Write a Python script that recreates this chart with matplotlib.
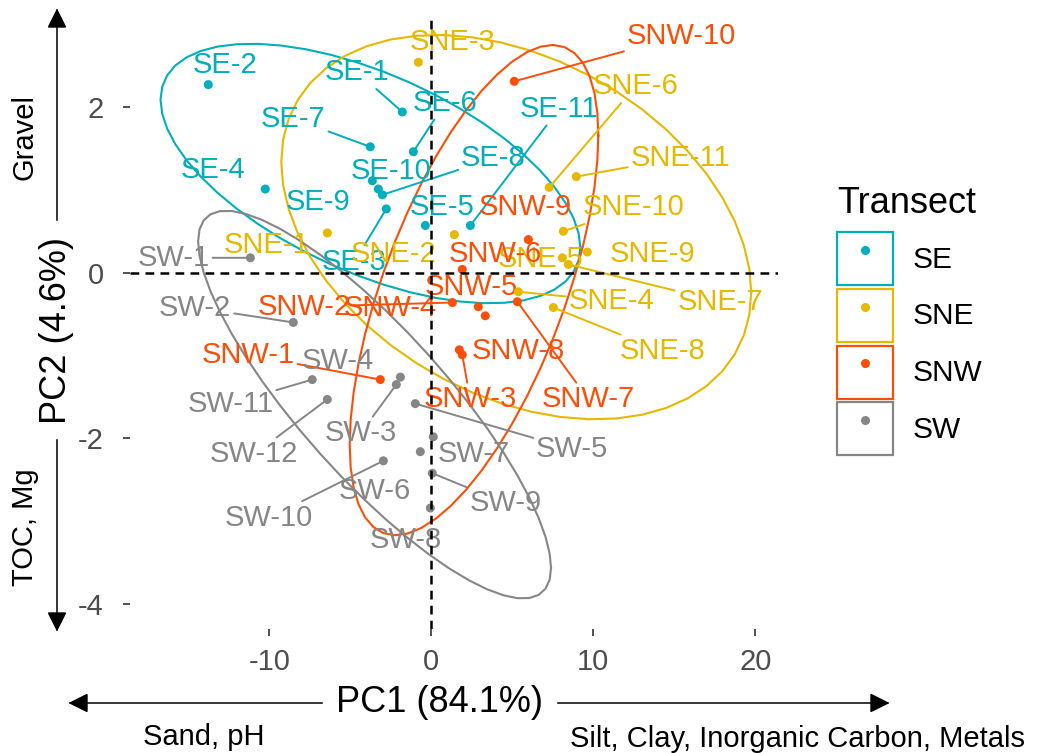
import numpy as np
import matplotlib
matplotlib.use("Agg")
import matplotlib.pyplot as plt
from matplotlib.lines import Line2D
from matplotlib.patches import Rectangle, Polygon

plt.rcParams["font.family"] = ["Liberation Sans", "DejaVu Sans"]
plt.rcParams["axes.unicode_minus"] = False

# PCA scores per sample, grouped by transect
se_names = ["SE-1", "SE-2", "SE-3", "SE-4", "SE-5", "SE-6", "SE-7", "SE-8", "SE-9", "SE-10", "SE-11"]
se_pc1 = [-1.79, -13.77, -2.78, -10.25, -0.37, -1.11, -3.77, -3.02, -3.64, -3.27, 2.41]
se_pc2 = [1.94, 2.27, 0.77, 1.01, 0.57, 1.46, 1.52, 0.94, 1.11, 1.01, 0.57]

sne_names = ["SNE-1", "SNE-2", "SNE-3", "SNE-4", "SNE-5", "SNE-6", "SNE-7", "SNE-8", "SNE-9", "SNE-10", "SNE-11"]
sne_pc1 = [-6.42, 1.42, -0.80, 5.37, 8.09, 7.28, 8.46, 7.53, 9.63, 8.15, 8.95]
sne_pc2 = [0.48, 0.46, 2.54, -0.23, 0.18, 1.03, 0.10, -0.42, 0.25, 0.50, 1.16]

snw_names = ["SNW-1", "SNW-2", "SNW-3", "SNW-4", "SNW-5", "SNW-6", "SNW-7", "SNW-8", "SNW-9", "SNW-10"]
snw_pc1 = [-3.15, 1.30, 1.91, 2.90, 3.33, 1.91, 5.31, 1.73, 5.99, 5.12]
snw_pc2 = [-1.29, -0.36, -0.99, -0.41, -0.52, 0.04, -0.35, -0.93, 0.40, 2.31]

sw_names = ["SW-1", "SW-2", "SW-3", "SW-4", "SW-5", "SW-6", "SW-7", "SW-8", "SW-9", "SW-10", "SW-11", "SW-12"]
sw_pc1 = [-11.17, -8.52, -2.16, -1.91, -0.99, -0.68, 0.12, -0.06, 0.06, -2.96, -7.35, -6.42]
sw_pc2 = [0.18, -0.60, -1.35, -1.26, -1.58, -2.16, -1.98, -2.84, -2.42, -2.27, -1.29, -1.53]

transects = ["SE", "SNE", "SNW", "SW"]
colors = ["#00AFBB", "#E7B800", "#FC4E07", "#868686"]

# repelled label placement (PC1, PC2) and whether a leader segment is drawn
label_pos = {
    "SE-1": (-4.57, 2.42, True), "SE-2": (-12.72, 2.51, False), "SE-3": (-4.75, 0.13, True),
    "SE-4": (-13.46, 1.24, False), "SE-5": (0.68, 0.79, False), "SE-6": (0.86, 2.05, True),
    "SE-7": (-8.52, 1.86, True), "SE-8": (3.83, 1.38, True), "SE-9": (-6.98, 0.85, False),
    "SE-10": (-2.47, 1.23, False), "SE-11": (7.9, 1.98, True),
    "SNE-1": (-10.19, 0.33, False), "SNE-2": (-2.35, 0.22, False), "SNE-3": (1.3, 2.79, False),
    "SNE-4": (11.1, -0.34, True), "SNE-5": (6.73, 0.16, False), "SNE-6": (12.6, 2.25, True),
    "SNE-7": (17.84, -0.35, True), "SNE-8": (14.26, -0.95, True), "SNE-9": (13.64, 0.22, False),
    "SNE-10": (12.47, 0.79, True), "SNE-11": (15.37, 1.39, True),
    "SNW-1": (-11.3, -0.99, True), "SNW-2": (-7.84, -0.41, True), "SNW-3": (2.4, -1.53, True),
    "SNW-4": (-2.53, -0.43, False), "SNW-5": (2.47, -0.17, False), "SNW-6": (3.95, 0.22, False),
    "SNW-7": (9.7, -1.53, True), "SNW-8": (5.37, -0.95, False), "SNW-9": (5.8, 0.79, False),
    "SNW-10": (15.43, 2.86, True),
    "SW-1": (-15.9, 0.18, True), "SW-2": (-14.57, -0.42, True), "SW-3": (-4.38, -1.94, True),
    "SW-4": (-5.8, -1.06, False), "SW-5": (8.7, -2.13, True), "SW-6": (-3.46, -2.64, False),
    "SW-7": (2.6, -2.19, False), "SW-8": (-1.6, -3.22, False), "SW-9": (4.57, -2.78, True),
    "SW-10": (-10.06, -2.96, True), "SW-11": (-12.4, -1.58, True), "SW-12": (-10.93, -2.19, True),
}


def ellipse(x, y, level=0.95, segments=51):
    # normal-theory confidence ellipse, same construction as stat_ellipse(type = "norm")
    xy = np.column_stack([x, y])
    center = xy.mean(axis=0)
    shape = np.cov(xy.T)
    dfd = len(x) - 1
    qf = dfd / 2 * ((1 - level) ** (-2 / dfd) - 1)  # F(2, dfd) quantile
    radius = np.sqrt(2 * qf)
    t = np.linspace(0, 2 * np.pi, segments)
    circle = np.column_stack([np.cos(t), np.sin(t)])
    R = np.linalg.cholesky(shape).T
    return center + radius * circle @ R


W, H = 1039, 753
fig = plt.figure(figsize=(W / 100, H / 100), dpi=100)
ax = fig.add_axes([130 / W, 1 - 629 / H, (778 - 130) / W, (629 - 20) / H])

groups = [(se_names, se_pc1, se_pc2), (sne_names, sne_pc1, sne_pc2),
          (snw_names, snw_pc1, snw_pc2), (sw_names, sw_pc1, sw_pc2)]

for (names, px, py), col in zip(groups, colors):
    e = ellipse(np.array(px), np.array(py))
    ax.plot(e[:, 0], e[:, 1], color=col, lw=1.5, zorder=1)

for (names, px, py), col in zip(groups, colors):
    for nm, x, y in zip(names, px, py):
        lx, ly, seg = label_pos[nm]
        ax.annotate(nm, xy=(x, y), xytext=(lx, ly), ha="center", va="center",
                    color=col, fontsize=21, zorder=3,
                    arrowprops=dict(arrowstyle="-", color=col, lw=1.4,
                                    shrinkA=0, shrinkB=0) if seg else None)

for (names, px, py), col in zip(groups, colors):
    ax.scatter(px, py, s=42, color=col, edgecolor="none", zorder=4)

ax.axhline(0, color="black", lw=1.8, ls=(0, (3.5, 2.5)), zorder=5)
ax.axvline(0, color="black", lw=1.8, ls=(0, (3.5, 2.5)), zorder=5)

ax.set_xlim(-18.6, 21.4)
ax.set_ylim(-4.3, 3.05)
ax.set_xticks([-10, 0, 10, 20])
ax.set_yticks([-4, -2, 0, 2])
ax.tick_params(labelsize=21, labelcolor="#4D4D4D", color="#333333",
               length=5, width=1.2)
ax.tick_params(axis="x", pad=9)
ax.tick_params(axis="y", pad=14)
for s in ax.spines.values():
    s.set_visible(False)


def fx(p):
    return p / W


def fy(p):
    return 1 - p / H


def arrow(x0, y0, x1, y1):
    # shaft plus a filled triangular head, in figure pixels
    fig.add_artist(Line2D([fx(x0), fx(x1)], [fy(y0), fy(y1)], color="black", lw=1.1,
                          transform=fig.transFigure))
    d = np.array([x1 - x0, y1 - y0], float)
    d /= np.hypot(*d)
    nrm = np.array([-d[1], d[0]])
    tip = np.array([x1, y1], float)
    base = tip - 17 * d
    pts = [tip, base + 8.5 * nrm, base - 8.5 * nrm]
    fig.add_artist(Polygon([(fx(a), fy(b)) for a, b in pts], closed=True,
                           color="black", transform=fig.transFigure))


arrow(57, 220, 57, 10)
arrow(57, 440, 57, 630)
arrow(322, 703, 70, 703)
arrow(558, 703, 888, 703)

fig.text(fx(57), fy(330), "PC2 (4.6%)", rotation=90, ha="center", va="center", fontsize=26)
fig.text(fx(25), fy(137), "Gravel", rotation=90, ha="center", va="center", fontsize=21)
fig.text(fx(25), fy(527), "TOC, Mg", rotation=90, ha="center", va="center", fontsize=21)
fig.text(fx(440), fy(703), "PC1 (84.1%)", ha="center", va="center", fontsize=26)
fig.text(fx(204), fy(737), "Sand, pH", ha="center", va="center", fontsize=21)
fig.text(fx(797), fy(739), "Silt, Clay, Inorganic Carbon, Metals", ha="center", va="center", fontsize=21)

handles = [(Rectangle((0, 0), 1, 1, facecolor="white", edgecolor=c, lw=1.6),
            Line2D([], [], marker="o", ls="", color=c, ms=6.5, mec="none"))
           for c in colors]
leg = fig.legend(handles, transects, title="Transect", loc="upper left",
                 bbox_to_anchor=(fx(810), fy(159)), frameon=False, fontsize=21.5,
                 title_fontsize=26, handlelength=1.87, handleheight=2.35,
                 labelspacing=0.13, handletextpad=0.67, alignment="left")
leg._legend_box.sep = 8

fig.savefig("out.png", dpi=100)
